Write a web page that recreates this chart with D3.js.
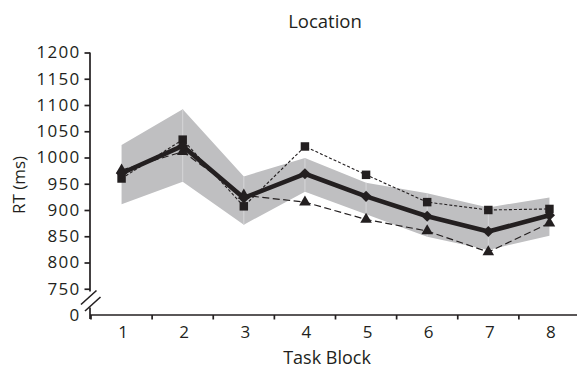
<!DOCTYPE html>
<html>
<head>
<meta charset="utf-8">
<script src="https://cdn.jsdelivr.net/npm/d3@7"></script>
<style>
  html, body { margin: 0; padding: 0; background: #fff; }
  svg { display: block; font-family: "Open Sans", sans-serif; }
</style>
</head>
<body>
<svg id="chart" width="577" height="370"></svg>
<script>
// Task blocks and reaction times (ms)
const blocks = [1, 2, 3, 4, 5, 6, 7, 8];
const meanRT = [970, 1022, 923, 969, 926, 888, 859, 890];
const squareRT = [960, 1034, 907, 1021, 967, 915, 900, 902];
const triangleRT = [976, 1011, 928, 915, 882, 860, 820, 875];
const bandUpper = [1024, 1092, 964, 999, 952, 932, 905, 924];
const bandLower = [911, 954, 872, 935, 892, 849, 824, 851];
const yTicks = [750, 800, 850, 900, 950, 1000, 1050, 1100, 1150, 1200];
const yBreakValue = 700;   // bottom of the broken axis, labelled "0"
const yBreakLabel = "0";

const ink = "#231f20";
const svg = d3.select("#chart");

const x = d3.scaleBand().domain(blocks).range([91, 580]);
const y = d3.scaleLinear().domain([yBreakValue, 1200]).range([315, 52.5]);
const cx = d => x(d) + x.bandwidth() / 2;

// Shaded band
const rows = blocks.map((b, i) => ({ b, lo: bandLower[i], hi: bandUpper[i] }));
svg.append("path")
  .datum(rows)
  .attr("fill", "#bfbfc1")
  .attr("d", d3.area().x(d => cx(d.b)).y0(d => y(d.lo)).y1(d => y(d.hi)));

// faint seams at each block inside the band
svg.append("g").selectAll("line").data(rows.slice(1, -1)).join("line")
  .attr("x1", d => cx(d.b)).attr("x2", d => cx(d.b))
  .attr("y1", d => y(d.hi)).attr("y2", d => y(d.lo))
  .attr("stroke", "#d6d6d8").attr("stroke-width", 1);

// Axes
const xAxis = svg.append("g")
  .attr("transform", `translate(0,${y(yBreakValue)})`)
  .call(d3.axisBottom(x).tickSize(0).tickPadding(11));
xAxis.select(".domain").attr("stroke", ink).attr("stroke-width", 1.7)
  .attr("d", `M90,0H580`);
xAxis.selectAll(".tick text").attr("font-size", 17).attr("fill", ink)
  .attr("font-family", "Open Sans").attr("dx", 1.5);
// tick marks at band boundaries
xAxis.append("g").selectAll("line").data(blocks).join("line")
  .attr("x1", d => x(d)).attr("x2", d => x(d))
  .attr("y1", 0).attr("y2", 4.5)
  .attr("stroke", ink).attr("stroke-width", 1.7);

const yAxis = svg.append("g").attr("transform", "translate(90,0)")
  .call(d3.axisLeft(y).tickValues(yTicks.concat([yBreakValue])).tickSize(5.5).tickPadding(4)
    .tickFormat(d => d === yBreakValue ? yBreakLabel : d));
yAxis.select(".domain").remove();
yAxis.selectAll(".tick line").attr("stroke", ink).attr("stroke-width", 1.7);
yAxis.selectAll(".tick").filter(d => d === yBreakValue).select("line").remove();
yAxis.selectAll(".tick text").attr("font-size", 17).attr("fill", ink)
  .attr("letter-spacing", 1.3).attr("font-family", "Open Sans");

// broken y axis line
svg.append("line").attr("x1", 90).attr("x2", 90)
  .attr("y1", y(1200)).attr("y2", 291.5)
  .attr("stroke", ink).attr("stroke-width", 1.7);
svg.append("line").attr("x1", 90).attr("x2", 90)
  .attr("y1", 307.5).attr("y2", 319)
  .attr("stroke", ink).attr("stroke-width", 1.7);
// break marks
[[81, 304.5, 96.5, 290.5], [85, 311, 100.5, 297]].forEach(([x1, y1, x2, y2]) => {
  svg.append("line").attr("x1", x1).attr("y1", y1).attr("x2", x2).attr("y2", y2)
    .attr("stroke", ink).attr("stroke-width", 1.6);
});

// Series lines
const line = vals => d3.line().x((d, i) => cx(blocks[i])).y(d => y(d))(vals);
svg.append("path").attr("d", line(squareRT)).attr("fill", "none")
  .attr("stroke", ink).attr("stroke-width", 1.1).attr("stroke-dasharray", "3,2");
svg.append("path").attr("d", line(triangleRT)).attr("fill", "none")
  .attr("stroke", ink).attr("stroke-width", 1.2).attr("stroke-dasharray", "7,3.5");

// Markers
svg.append("g").selectAll("path").data(squareRT).join("path")
  .attr("transform", (d, i) => `translate(${cx(blocks[i])},${y(d)})`)
  .attr("d", d3.symbol(d3.symbolSquare, 72)())
  .attr("fill", ink);
svg.append("g").selectAll("path").data(triangleRT).join("path")
  .attr("transform", (d, i) => `translate(${cx(blocks[i])},${y(d)})`)
  .attr("d", d3.symbol(d3.symbolTriangle, 58)())
  .attr("fill", ink);

svg.append("path").attr("d", line(meanRT)).attr("fill", "none")
  .attr("stroke", ink).attr("stroke-width", 4.6).attr("stroke-linejoin", "round");
svg.append("g").selectAll("path").data(meanRT).join("path")
  .attr("transform", (d, i) => `translate(${cx(blocks[i])},${y(d)}) rotate(45)`)
  .attr("d", d3.symbol(d3.symbolSquare, 62)())
  .attr("fill", ink);

// Titles
svg.append("text").attr("x", 325).attr("y", 28).attr("text-anchor", "middle")
  .attr("font-size", 18.5).attr("fill", ink).text("Location");
svg.append("text").attr("x", 327).attr("y", 364).attr("text-anchor", "middle")
  .attr("font-size", 18).attr("fill", ink).text("Task Block");
svg.append("text").attr("transform", "translate(25,185) rotate(-90)")
  .attr("text-anchor", "middle").attr("font-size", 17).attr("fill", ink).text("RT (ms)");
</script>
</body>
</html>
